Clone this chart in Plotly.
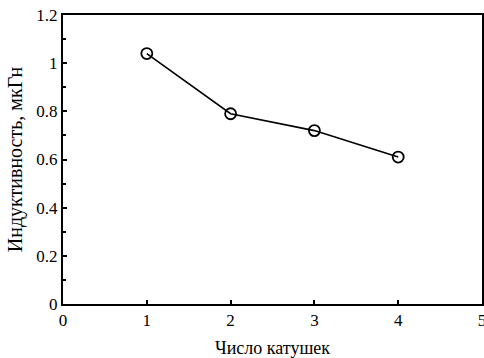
import plotly.graph_objects as go

coils = [1, 2, 3, 4]
inductance = [1.04, 0.79, 0.72, 0.61]

x_ticks = [0, 1, 2, 3, 4, 5]
y_ticks = [0, 0.2, 0.4, 0.6, 0.8, 1, 1.2]
y_tick_text = ["0", "0.2", "0.4", "0.6", "0.8", "1", "1.2"]

SERIF = "Liberation Serif"

fig = go.Figure(
    go.Scatter(
        x=coils,
        y=inductance,
        mode="lines+markers",
        line={"color": "black", "width": 1.6},
        marker={"symbol": "circle-open", "size": 11, "color": "black", "line": {"width": 1.8}},
        showlegend=False,
        cliponaxis=False,
    )
)

fig.update_layout(
    width=484,
    height=358,
    paper_bgcolor="white",
    plot_bgcolor="white",
    font={"family": SERIF, "size": 17, "color": "black"},
    margin={"l": 63, "r": 2, "t": 15, "b": 54, "autoexpand": False},
)
fig.update_xaxes(
    range=[0, 5],
    tickvals=x_ticks,
    tickfont={"family": SERIF, "size": 17},
    ticklabeloverflow="allow",
    ticks="inside",
    ticklen=4,
    tickwidth=1.5,
    tickcolor="black",
    showline=True,
    linecolor="black",
    linewidth=2,
    mirror=True,
    showgrid=False,
    zeroline=False,
    automargin=False,
    title={"text": "Число катушек", "font": {"family": SERIF, "size": 18}, "standoff": 12},
)
fig.update_yaxes(
    range=[0, 1.2],
    tickvals=y_ticks,
    ticktext=y_tick_text,
    tickfont={"family": SERIF, "size": 17},
    ticks="inside",
    ticklen=4,
    tickwidth=1.5,
    tickcolor="black",
    minor={"tickvals": [0.1, 0.3, 0.5, 0.7, 0.9, 1.1], "ticks": "inside", "ticklen": 3, "tickcolor": "black"},
    showline=True,
    linecolor="black",
    linewidth=2,
    mirror=True,
    showgrid=False,
    zeroline=False,
    automargin=False,
    title={"text": "Индуктивность, мкГн", "font": {"family": SERIF, "size": 20}, "standoff": 8},
)

fig.write_html(
    "out.html",
    config={"displayModeBar": False},
    post_script="document.body.style.margin = '0';",
)
